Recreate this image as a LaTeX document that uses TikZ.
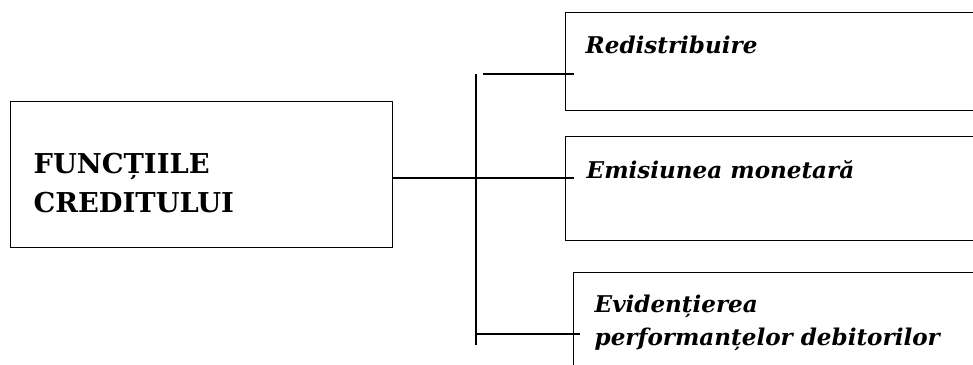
\documentclass[tikz,border=0pt]{standalone}
\usepackage{fontspec}
\setmainfont{DejaVu Serif}
\usetikzlibrary{positioning}

\begin{document}
\begin{tikzpicture}[x=0.75pt, y=-0.75pt, line width=1pt,
    box/.style = {draw, rectangle, anchor=north west, inner sep=0pt},
    title/.style = {font=\bfseries\fontsize{20.5}{29.25}\selectfont, align=left, anchor=base west, inner sep=0pt},
    item/.style = {font=\bfseries\itshape\fontsize{17.3}{24.75}\selectfont, align=left, anchor=base west, inner sep=0pt}]
    \clip (0,0) rectangle (973,364);

    % boxes
    \node (func) [box, minimum width=286.5pt, minimum height=109.5pt] at (10,101) {};
    \node (redis) [box, minimum width=315pt, minimum height=73.5pt] at (565,12) {};
    \node (emis) [box, minimum width=315pt, minimum height=78pt] at (565,136) {};
    \node (evid) [box, minimum width=315pt, minimum height=90pt] at (573,272) {};

    % texts (base = last line)
    \node (functxt) [title] at ([shift={(23,111)}]func.north west) {FUNCȚIILE\\CREDITULUI};
    \node (redistxt) [item] at ([shift={(20,41)}]redis.north west) {Redistribuire};
    \node (emistxt) [item] at ([shift={(21,42)}]emis.north west) {Emisiunea monetară};
    \node (evidtxt) [item] at ([shift={(21,73)}]evid.north west) {Evidențierea\\performanțelor debitorilor};

    % bus
    \coordinate (bustop) at (476,74);
    \coordinate (busbot) at (476,345);
    \coordinate (redisin) at (574,74);
    \coordinate (emisin) at (574,178);
    \coordinate (evidin) at (580,334);

    \draw (bustop) -- (busbot);
    \draw ([xshift=5.25pt]bustop) -- (redisin);
    \draw (func.east |- emisin) -- (emisin);
    \draw (bustop |- evidin) -- (evidin);
\end{tikzpicture}
\end{document}
